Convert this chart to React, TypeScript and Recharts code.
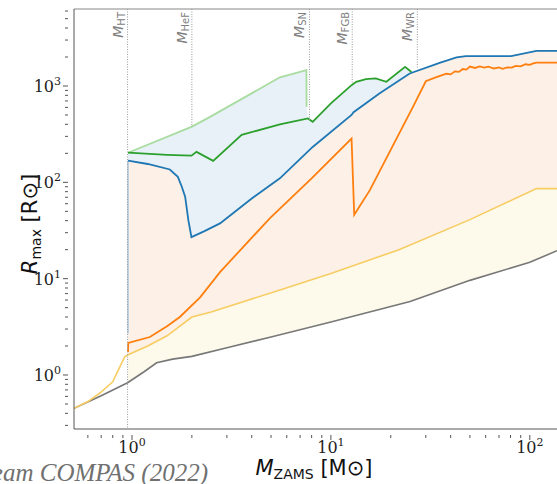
import React from "react";
import { ComposedChart, Line, Area, XAxis, YAxis, ReferenceLine } from "recharts";

type Pt = [number, number];

// [M_ZAMS, R_max] pairs, both in solar units
const zamsRadius: Pt[] = [
  [0.511, 0.45], [0.7, 0.61], [0.95, 0.83], [1.15, 1.08], [1.33, 1.34], [1.6, 1.46],
  [2.0, 1.56], [3.0, 1.92], [5.0, 2.48], [10, 3.55], [25, 5.8], [50, 9.6], [100, 14.8], [137, 19.5],
];
const msRadius: Pt[] = [
  [0.511, 0.45], [0.6, 0.53], [0.69, 0.65], [0.8, 0.85], [0.87, 1.22], [0.92, 1.55],
  [0.955, 1.62], [1.2, 2.0], [1.5, 2.55], [2.0, 4.0], [2.5, 4.5], [5.5, 7.6], [10, 11.3], [22, 20],
  [50, 41], [108, 86], [137, 86],
];
const hgRadius: Pt[] = [
  [0.955, 1.73], [0.958, 2.15], [1.23, 2.48], [1.5, 3.2], [1.74, 4.0], [2.2, 6.4], [2.77, 11.7],
  [4.94, 42.6], [8, 110], [12.7, 285], [13.1, 46], [15.7, 83], [19.8, 210], [25.9, 610], [30, 1120],
  [33.9, 1235], [36, 1290], [38, 1340], [40, 1320], [42, 1420], [44, 1400], [46, 1500], [48, 1480],
  [50, 1590], [53, 1540], [56, 1600], [59, 1550], [62, 1590], [66, 1520], [70, 1560], [73, 1510],
  [77, 1560], [81, 1550], [85, 1620], [90, 1600], [95, 1680], [100, 1660], [104, 1720], [108, 1750],
  [137, 1750],
];
const cheBRadius: Pt[] = [
  [0.955, 168], [1.2, 155], [1.55, 136], [1.7, 114], [1.78, 90], [1.85, 71], [1.92, 40.5], [1.99, 27],
  [2.3, 31], [2.77, 37.5], [4, 68], [5.54, 110], [8.1, 233], [12.7, 500], [13.0, 535], [17.6, 840],
  [24.9, 1350], [35.2, 1740], [42.8, 1980], [47.7, 2040], [80.5, 2040], [108, 2320], [137, 2320],
];
const cheBEdge: Pt[] = [[0.955, 2.7], [0.955, 168]];
const agbRadius: Pt[] = [
  [0.955, 203], [1.5, 193], [1.99, 189], [2.11, 207], [2.56, 167], [3.56, 311], [5.54, 400],
  [7.67, 460], [8.1, 425], [10, 660], [12.7, 1020], [13.4, 1105], [15, 1180], [16.8, 1200],
  [19, 1105], [23.6, 1580], [25.4, 1400],
];
const agbNoSnRadius: Pt[] = [
  [0.955, 203], [1.99, 377], [2.47, 478], [5.54, 1230], [7.53, 1460], [7.55, 610],
];

const markerNames = ["HT", "HeF", "SN", "FGB", "WR"];
const markerMass = [0.95, 2.0, 7.8, 12.8, 27.2];
const markerStop = [0.275, 377, 440, 1060, 1500];

const xMajor = [1, 10, 100];
const xMinor = [0.6, 0.7, 0.8, 0.9, 2, 3, 4, 5, 6, 7, 8, 9, 20, 30, 40, 50, 60, 70, 80, 90];
const yMajor = [1, 10, 100, 1000];
const yMinor = [0.3, 0.4, 0.5, 0.6, 0.7, 0.8, 0.9, 2, 3, 4, 5, 6, 7, 8, 9, 20, 30, 40, 50, 60, 70, 80, 90,
  200, 300, 400, 500, 600, 700, 800, 900, 2000, 3000, 4000, 5000, 6000];

const X_DOMAIN: [number, number] = [0.511, 137];
const Y_DOMAIN: [number, number] = [0.275, 6300];

const rows = (pts: Pt[]) => pts.map(([m, r]) => ({ m, r }));
const blueTop = rows([...agbNoSnRadius, ...agbRadius.filter(([m]) => m > 7.55)]);
// shaded bands only start at the hook mass
const creamTop = rows(msRadius.filter(([m]) => m >= 0.955));

const AXIS = "#555";
const TICK_FONT = "DejaVu Serif";

function XTick(props: any) {
  const { x, y, payload } = props;
  const major = xMajor.includes(payload.value);
  const exp = Math.round(Math.log10(payload.value));
  return (
    <g>
      <line x1={x} x2={x} y1={y} y2={y + (major ? 5 : 3)} stroke={AXIS} />
      {major && (
        <text x={x} y={y + 18} textAnchor="middle" fontFamily={TICK_FONT} fontSize={16} fill="#222">
          10<tspan dy={-7} fontSize={11}>{exp}</tspan>
        </text>
      )}
    </g>
  );
}

function YTick(props: any) {
  const { x, y, payload } = props;
  const major = yMajor.includes(payload.value);
  const exp = Math.round(Math.log10(payload.value));
  return (
    <g>
      <line x1={x} x2={x - (major ? 5 : 3)} y1={y} y2={y} stroke={AXIS} />
      {major && (
        <text x={x - 7} y={y + 6} textAnchor="end" fontFamily={TICK_FONT} fontSize={16} fill="#222">
          10<tspan dy={-7} fontSize={11}>{exp}</tspan>
        </text>
      )}
    </g>
  );
}

function MarkerLabel({ viewBox, sub }: any) {
  const x = viewBox?.x ?? 0;
  return (
    <text transform={`translate(${x - 5},12) rotate(-90)`} textAnchor="end" fill="#808080" fontFamily="DejaVu Sans">
      <tspan fontStyle="italic" fontSize={14}>M</tspan>
      <tspan fontSize={10} dy={2}>{sub}</tspan>
    </text>
  );
}

const fill = (pts: { m: number; r: number }[], color: string, key: string) => (
  <Area key={key} data={pts} dataKey="r" type="linear" stroke="none" fill={color} fillOpacity={1}
    baseValue="dataMin" isAnimationActive={false} />
);

const curve = (pts: Pt[], color: string, width: number, key: string) => (
  <Line key={key} data={rows(pts)} dataKey="r" type="linear" stroke={color} strokeWidth={width}
    dot={false} activeDot={false} isAnimationActive={false} />
);

export default function App() {
  return (
    <div style={{ position: "absolute", left: 0, top: 0, width: 557, height: 484, background: "#fff", overflow: "hidden" }}>
      <ComposedChart width={557} height={484} margin={{ top: 9, right: 0, bottom: 0, left: 0 }}>
        <XAxis dataKey="m" type="number" scale="log" domain={X_DOMAIN} allowDataOverflow
          ticks={[...xMinor, ...xMajor]} tick={<XTick />} tickLine={false} tickMargin={0} interval={0}
          height={55} stroke={AXIS} />
        <YAxis dataKey="r" type="number" scale="log" domain={Y_DOMAIN} allowDataOverflow
          ticks={[...yMinor, ...yMajor]} tick={<YTick />} tickLine={false} tickMargin={0} interval={0}
          width={74} stroke={AXIS} />

        {fill(blueTop, "#e8f1f8", "f-blue")}
        {fill(rows(cheBRadius), "#fdf0e6", "f-peach")}
        {fill(creamTop, "#fefaeb", "f-cream")}
        {fill(rows(zamsRadius), "#ffffff", "f-white")}

        {curve(cheBEdge, "#aac8e2", 1.5, "edge")}
        {curve(agbNoSnRadius, "#a8dca0", 1.8, "lgreen")}
        {curve(zamsRadius, "#777777", 1.6, "zams")}
        {curve(msRadius, "#f7cd63", 1.6, "ms")}
        {curve(hgRadius, "#ff7f0e", 1.8, "hg")}
        {curve(cheBRadius, "#1f77b4", 1.8, "cheb")}
        {curve(agbRadius, "#2ca02c", 1.8, "agb")}

        <ReferenceLine y={Y_DOMAIN[1]} stroke="#888" strokeWidth={1.2} ifOverflow="visible" />

        {markerNames.map((name, i) => (
          <ReferenceLine key={name} segment={[{ x: markerMass[i], y: Y_DOMAIN[1] }, { x: markerMass[i], y: markerStop[i] }]}
            stroke="#999" strokeWidth={1} strokeDasharray="1 1.5" ifOverflow="visible"
            label={(p: any) => <MarkerLabel viewBox={p.viewBox} sub={name} />} />
        ))}

        <text x={553} y={419} textAnchor="end" fontFamily="DejaVu Sans" fontSize={15} fill="#111">
          <tspan fontStyle="italic">Z</tspan> = 0.0142
        </text>
        <text transform="rotate(-90, 30, 224)" x={30} y={231} textAnchor="middle" fontFamily="DejaVu Sans" fontSize={21} fill="#111">
          <tspan fontStyle="italic">R</tspan>
          <tspan fontSize={14} dy={4}>max</tspan>
          <tspan dy={-4}> [R⊙]</tspan>
        </text>
        <text x={314} y={475} textAnchor="middle" fontFamily="DejaVu Sans" fontSize={21} fill="#111">
          <tspan fontStyle="italic">M</tspan>
          <tspan fontSize={14} dy={4}>ZAMS</tspan>
          <tspan dy={-4}> [M⊙]</tspan>
        </text>
        <text x={208} y={481} textAnchor="end" fontFamily="Liberation Serif" fontStyle="italic" fontSize={25} fill="#707070">
          Team COMPAS (2022)
        </text>
      </ComposedChart>
    </div>
  );
}
